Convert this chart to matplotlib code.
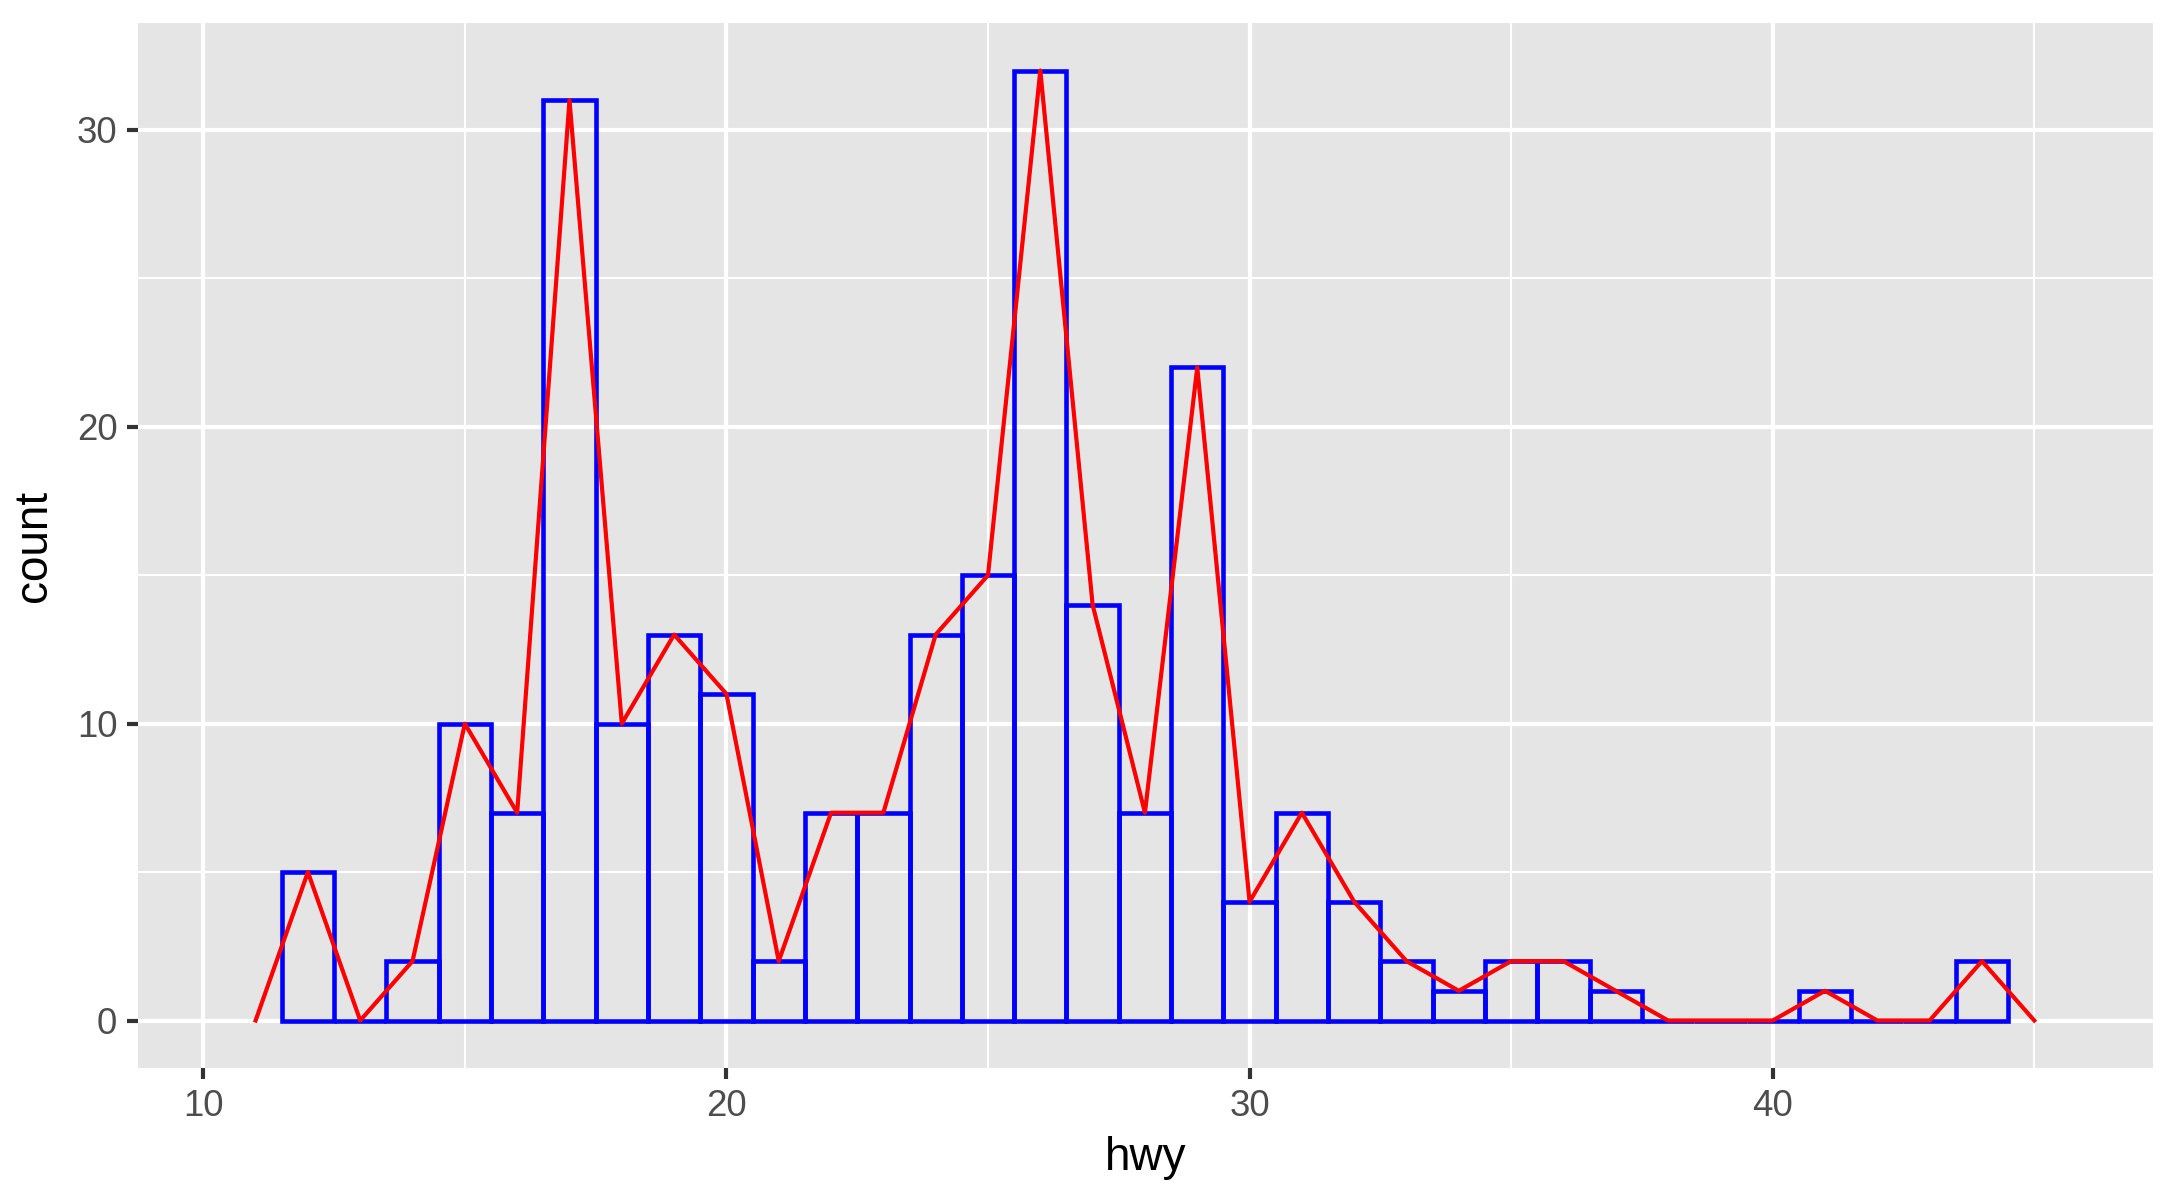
import matplotlib
matplotlib.use('Agg')
import matplotlib.pyplot as plt
import numpy as np

# hwy bin centres (binwidth 1) and counts
hwy_bins = [12, 13, 14, 15, 16, 17, 18, 19, 20, 21, 22, 23, 24, 25, 26, 27, 28,
            29, 30, 31, 32, 33, 34, 35, 36, 37, 38, 39, 40, 41, 42, 43, 44]
counts = [5, 0, 2, 10, 7, 31, 10, 13, 11, 2, 7, 7, 13, 15, 32, 14, 7,
          22, 4, 7, 4, 2, 1, 2, 2, 1, 0, 0, 0, 1, 0, 0, 2]

x_ticks = [10, 20, 30, 40]
y_ticks = [0, 10, 20, 30]

# freqpoly pads with an empty bin at each end
poly_x = [hwy_bins[0] - 1] + hwy_bins + [hwy_bins[-1] + 1]
poly_y = [0] + counts + [0]

plt.rcParams['font.family'] = ['Liberation Sans', 'DejaVu Sans']

fig = plt.figure(figsize=(7.25, 4), dpi=300)
ax = fig.add_axes([0.0634, 0.11, 0.9265, 0.8708])
ax.set_facecolor('#E5E5E5')

ax.bar(hwy_bins, counts, width=1, facecolor='none', edgecolor='#0000FF',
       linewidth=1.1, zorder=3)
ax.plot(poly_x, poly_y, color='#FF0000', linewidth=1.0, zorder=4)

ax.set_xlim(8.75, 47.27)
ax.set_ylim(-1.6, 33.6)

ax.set_xticks(x_ticks)
ax.set_yticks(y_ticks)
ax.set_xticks([15, 25, 35, 45], minor=True)
ax.set_yticks([5, 15, 25], minor=True)
ax.grid(which='major', color='white', linewidth=1.0, zorder=1)
ax.grid(which='minor', color='white', linewidth=0.5, zorder=1)
ax.set_axisbelow(True)

for s in ax.spines.values():
    s.set_visible(False)

ax.tick_params(which='major', length=2.75, width=1.0, color='#333333',
               labelsize=8.8, labelcolor='#4D4D4D', pad=2.2)
ax.tick_params(which='minor', length=0)

ax.set_xlabel('hwy', fontsize=11, color='black', labelpad=3)
ax.set_ylabel('count', fontsize=11, color='black', labelpad=5)

fig.savefig('out.png', dpi=300)
plt.close(fig)
